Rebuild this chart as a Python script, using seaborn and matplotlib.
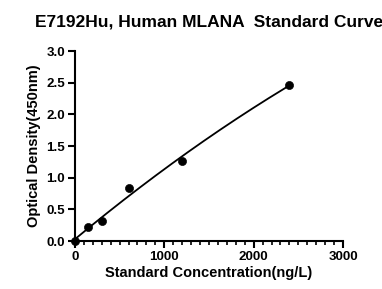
import numpy as np
import pandas as pd
import matplotlib
matplotlib.use("Agg")
import matplotlib.pyplot as plt
import seaborn as sns
from matplotlib.ticker import MultipleLocator

# Standard points
conc = [0, 150, 300, 600, 1200, 2400]
od = [0.0, 0.22, 0.32, 0.84, 1.26, 2.47]

df = pd.DataFrame({"conc": conc, "od": od})

sns.set_theme(style="ticks")
plt.rcParams["font.family"] = ["Liberation Sans", "DejaVu Sans"]
plt.rcParams["font.weight"] = "bold"
plt.rcParams["text.color"] = "black"
plt.rcParams["axes.labelcolor"] = "black"

fig = plt.figure(figsize=(3.82, 2.89), dpi=100)
ax = fig.add_axes([0.196, 0.166, 0.702, 0.657])

# fitted curve
coef = np.polyfit(df["conc"], df["od"], 2)
xs = np.linspace(0, 2400, 200)
ax.plot(xs, np.polyval(coef, xs), color="black", lw=1.3)

sns.scatterplot(data=df, x="conc", y="od", color="black", s=34,
                edgecolor="black", ax=ax, clip_on=False, zorder=3)

ax.set_xlim(0, 3000)
ax.set_ylim(0, 3.0)
ax.xaxis.set_major_locator(MultipleLocator(1000))
ax.xaxis.set_minor_locator(MultipleLocator(100))
ax.yaxis.set_major_locator(MultipleLocator(0.5))
ax.yaxis.set_major_formatter(matplotlib.ticker.FormatStrFormatter("%.1f"))

for s in ["top", "right"]:
    ax.spines[s].set_visible(False)
for s in ["left", "bottom"]:
    ax.spines[s].set_linewidth(1.5)
    ax.spines[s].set_color("black")
ax.tick_params(which="major", length=5, width=1.5, labelsize=9.6, colors="black", pad=2)
ax.tick_params(which="minor", length=3, width=1.2, colors="black")
for lab in ax.get_xticklabels() + ax.get_yticklabels():
    lab.set_fontweight("bold")

ax.set_xlabel("Standard Concentration(ng/L)", fontsize=10.5, fontweight="bold", labelpad=2)
ax.set_ylabel("Optical Density(450nm)", fontsize=10.5, fontweight="bold", labelpad=4)
ax.set_title("E7192Hu, Human MLANA  Standard Curve", fontsize=12.5, fontweight="bold", pad=18)

fig.savefig("out.png", dpi=100)
